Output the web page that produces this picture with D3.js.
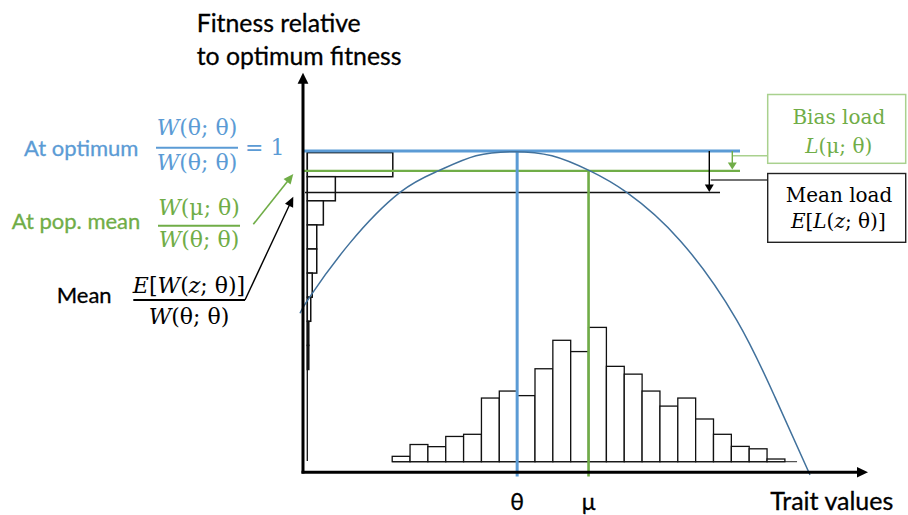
<!DOCTYPE html>
<html>
<head>
<meta charset="utf-8">
<script src="https://cdn.jsdelivr.net/npm/d3@7"></script>
<style>
  html, body { margin: 0; padding: 0; background: #fff; }
  svg { display: block; }
</style>
</head>
<body>
<svg id="chart" width="908" height="515"></svg>
<script>
// ---------------- DATA ----------------
// trait histogram: bin i spans [binStarts[i], binStarts[i]+1] in trait units
const binStarts   = [0, 1, 2, 3, 4, 5, 6, 7, 8, 9, 10, 11, 12, 13, 14, 15, 16, 17, 18, 19, 20, 21];
const traitCounts = [2, 6.4, 5.6, 9.4, 10.2, 23.7, 26.3, 24.6, 34.6, 45.2, 41, 50, 35.5, 32.6, 26.3, 20.7, 23.7, 15.9, 10.2, 5.7, 4.8, 1];
// fitness histogram (sideways): bins of fitness, top edge of each bin
const fitBinTops  = [0.995, 0.92, 0.845, 0.77, 0.695, 0.62, 0.545, 0.47, 0.395];
const fitBinWidth = 0.075;
const fitCounts   = [57, 18.7, 10.7, 6.3, 6.3, 3.3, 2.3, 1, 1];
// fitness curve (trait value, relative fitness)
const curveTrait   = [-5.165, -4.605, -2.364, 0.437, 2.583, 4.695, 6.824, 8.952, 11.081, 13.137, 16.146, 19.3, 21.445, 23.406];
const curveFitness = [0.495, 0.547, 0.714, 0.871, 0.938, 0.985, 0.998, 0.985, 0.938, 0.871, 0.72, 0.474, 0.234, -0.008];
// key values
const theta = 7, mu = 11;
const fitOptimum = 1.0, fitAtMean = 0.938, fitMean = 0.871;

// ---------------- SCALES ----------------
const svg = d3.select("#chart");
const x = d3.scaleLinear().domain([0, 22]).range([392.2, 784.9]);     // trait
const y = d3.scaleLinear().domain([0, 1]).range([472.3, 151]);         // relative fitness
const histBase = 461.7;
const yCount = d3.scaleLinear().domain([0, 50]).range([histBase, histBase - 134.3]);
const sideBase = 307.3;
const xSide = d3.scaleLinear().domain([0, 57]).range([sideBase, sideBase + 85.5]);

const BLUE = "#5B9BD5", GREEN = "#70AD47", CURVE = "#41719C", LGREEN = "#A9D18E";
const SANS = "Lato, 'Open Sans', sans-serif";
const SERIF = "'DejaVu Serif', serif";

// ---------------- HISTOGRAM (trait) ----------------
svg.append("line")
  .attr("x1", x(0)).attr("x2", x(22.68)).attr("y1", histBase).attr("y2", histBase)
  .attr("stroke", "#555").attr("stroke-width", 1.2);
svg.append("g").selectAll("rect").data(binStarts).join("rect")
  .attr("x", d => x(d)).attr("width", d => x(d + 1) - x(d))
  .attr("y", (d, i) => yCount(traitCounts[i]))
  .attr("height", (d, i) => histBase - yCount(traitCounts[i]))
  .attr("fill", "#fff").attr("stroke", "#111").attr("stroke-width", 1.3);

// ---------------- SIDE HISTOGRAM (fitness) ----------------
svg.append("line")
  .attr("x1", sideBase).attr("x2", sideBase).attr("y1", y(fitBinTops[0])).attr("y2", 461)
  .attr("stroke", "#111").attr("stroke-width", 1.3);
svg.append("g").selectAll("rect").data(fitBinTops).join("rect")
  .attr("x", sideBase)
  .attr("width", (d, i) => xSide(fitCounts[i]) - sideBase)
  .attr("y", d => y(d))
  .attr("height", d => y(d - fitBinWidth) - y(d))
  .attr("fill", "#fff").attr("stroke", "#111").attr("stroke-width", 1.5);

// ---------------- REFERENCE LINES ----------------
svg.append("line").attr("x1", 303).attr("x2", 740).attr("y1", y(fitOptimum)).attr("y2", y(fitOptimum))
  .attr("stroke", BLUE).attr("stroke-width", 3);
svg.append("line").attr("x1", 303).attr("x2", 740).attr("y1", y(fitAtMean)).attr("y2", y(fitAtMean))
  .attr("stroke", GREEN).attr("stroke-width", 2.2);
svg.append("line").attr("x1", 305).attr("x2", 720).attr("y1", y(fitMean)).attr("y2", y(fitMean))
  .attr("stroke", "#111").attr("stroke-width", 1.6);

// vertical theta / mu lines
svg.append("line").attr("x1", x(theta)).attr("x2", x(theta)).attr("y1", y(fitOptimum)).attr("y2", 476.5)
  .attr("stroke", BLUE).attr("stroke-width", 3);
svg.append("line").attr("x1", x(mu)).attr("x2", x(mu)).attr("y1", y(fitAtMean)).attr("y2", 476.5)
  .attr("stroke", GREEN).attr("stroke-width", 2.6);

// ---------------- FITNESS CURVE ----------------
const line = d3.line().x(d => x(d[0])).y(d => y(d[1])).curve(d3.curveNatural);
svg.append("path").datum(curveTrait.map((t, i) => [t, curveFitness[i]]))
  .attr("d", line).attr("fill", "none").attr("stroke", CURVE).attr("stroke-width", 1.5);

// ---------------- AXES ----------------
function arrowHead(tx, ty, dx, dy, len, half, color) {
  const bx = tx - dx * len, by = ty - dy * len;
  const px = -dy, py = dx;
  svg.append("path")
    .attr("d", `M${tx},${ty}L${bx + px * half},${by + py * half}L${bx - px * half},${by - py * half}Z`)
    .attr("fill", color);
}
svg.append("line").attr("x1", 303).attr("x2", 303).attr("y1", 473.6).attr("y2", 82)
  .attr("stroke", "#000").attr("stroke-width", 3);
arrowHead(303, 72.7, 0, -1, 11, 5.4, "#000");
svg.append("line").attr("x1", 301.5).attr("x2", 858).attr("y1", 472.3).attr("y2", 472.3)
  .attr("stroke", "#000").attr("stroke-width", 3);
arrowHead(868, 472.3, 1, 0, 11, 5.2, "#000");

// ---------------- LOAD ARROWS & BOXES ----------------
svg.append("line").attr("x1", 709.3).attr("x2", 709.3).attr("y1", y(fitOptimum)).attr("y2", y(fitMean) - 6)
  .attr("stroke", "#000").attr("stroke-width", 1.4);
arrowHead(709.3, y(fitMean) - 0.5, 0, 1, 7.5, 4.5, "#000");
svg.append("line").attr("x1", 732.3).attr("x2", 732.3).attr("y1", y(fitOptimum)).attr("y2", y(fitAtMean) - 6)
  .attr("stroke", GREEN).attr("stroke-width", 1.4);
arrowHead(732.3, y(fitAtMean) - 1.5, 0, 1, 7, 4.5, GREEN);

svg.append("line").attr("x1", 733).attr("x2", 768).attr("y1", 155.7).attr("y2", 155.7)
  .attr("stroke", LGREEN).attr("stroke-width", 1.5);
svg.append("line").attr("x1", 710.7).attr("x2", 768).attr("y1", 180).attr("y2", 180)
  .attr("stroke", "#444").attr("stroke-width", 1.3);

svg.append("rect").attr("x", 767.7).attr("y", 94.5).attr("width", 138).attr("height", 68.8)
  .attr("fill", "#fff").attr("stroke", LGREEN).attr("stroke-width", 1.5);
svg.append("rect").attr("x", 767.7).attr("y", 173.5).attr("width", 138).attr("height", 68.8)
  .attr("fill", "#fff").attr("stroke", "#222").attr("stroke-width", 1.4);

function mathText(xc, yb, parts, color, size, anchor) {
  const t = svg.append("text").attr("x", xc).attr("y", yb)
    .attr("text-anchor", anchor || "middle").attr("font-family", SERIF)
    .attr("font-size", size).attr("fill", color);
  parts.forEach(p => {
    t.append("tspan").text(p[0]).attr("font-style", p[1] ? "italic" : "normal");
  });
  return t;
}
mathText(838.8, 124.3, [["Bias load", false]], GREEN, 20);
mathText(838.8, 153.3, [["L", true], ["(μ; θ)", false]], GREEN, 20);
mathText(839, 201.7, [["Mean load", false]], "#000", 20);
mathText(838.3, 228.3, [["E", true], ["[", false], ["L", true], ["(", false], ["z", true], ["; θ)]", false]], "#000", 20);

// ---------------- TEXT LABELS ----------------
function sans(xp, yb, txt, color, anchor, size) {
  return svg.append("text").attr("x", xp).attr("y", yb).attr("font-family", SANS)
    .attr("font-size", size || 22).attr("fill", color)
    .attr("stroke", color).attr("stroke-width", 0.3)
    .attr("text-anchor", anchor || "start").text(txt);
}
sans(196.7, 32.3, "Fitness relative", "#000", "start", 24.8);
sans(196.7, 65, "to optimum fitness", "#000", "start", 24.8);
sans(893.3, 509.5, "Trait values", "#000", "end", 25);
sans(x(theta), 509.5, "θ", "#000", "middle", 23);
sans(x(mu), 509.5, "μ", "#000", "middle", 23);

// At optimum
sans(24, 156, "At optimum", BLUE);
mathText(197, 135.4, [["W", true], ["(θ; θ)", false]], BLUE, 22);
svg.append("line").attr("x1", 156).attr("x2", 238).attr("y1", 147.7).attr("y2", 147.7)
  .attr("stroke", BLUE).attr("stroke-width", 2);
mathText(197, 170, [["W", true], ["(θ; θ)", false]], BLUE, 22);
mathText(245, 155, [["= 1", false]], BLUE, 22, "start");

// At pop. mean
sans(11.7, 229.3, "At pop. mean", GREEN);
mathText(199, 215.4, [["W", true], ["(μ; θ)", false]], GREEN, 22);
svg.append("line").attr("x1", 158).attr("x2", 240).attr("y1", 225.7).attr("y2", 225.7)
  .attr("stroke", GREEN).attr("stroke-width", 2);
mathText(199, 247, [["W", true], ["(θ; θ)", false]], GREEN, 22);
svg.append("line").attr("x1", 253.3).attr("y1", 224.3).attr("x2", 289).attr("y2", 179.4)
  .attr("stroke", GREEN).attr("stroke-width", 1.6);
arrowHead(293.3, 174, 0.623, -0.782, 10, 4.5, GREEN);

// Mean
sans(56.7, 303.3, "Mean", "#000");
mathText(189, 293, [["E", true], ["[", false], ["W", true], ["(", false], ["z", true], ["; θ)]", false]], "#000", 22);
svg.append("line").attr("x1", 133.3).attr("x2", 245).attr("y1", 300).attr("y2", 300)
  .attr("stroke", "#000").attr("stroke-width", 2);
mathText(189, 323.5, [["W", true], ["(θ; θ)", false]], "#000", 22);
svg.append("line").attr("x1", 245).attr("y1", 300).attr("x2", 290.5).attr("y2", 202.7)
  .attr("stroke", "#000").attr("stroke-width", 1.4);
arrowHead(293.3, 196.7, 0.424, -0.906, 10, 4.5, "#000");
</script>
</body>
</html>
